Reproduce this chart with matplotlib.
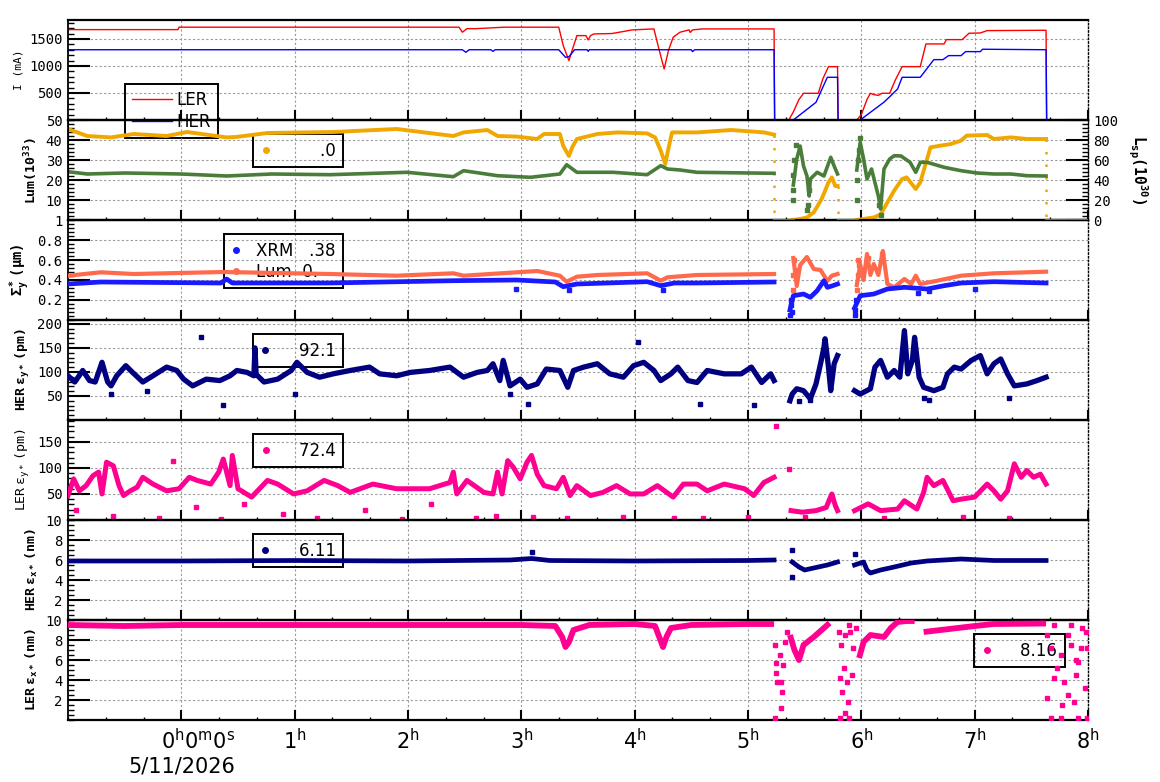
import matplotlib.pyplot as plt
import numpy as np
from matplotlib.ticker import MultipleLocator, FixedLocator, FixedFormatter
from matplotlib.lines import Line2D

plt.rcParams['font.family'] = 'DejaVu Sans Mono'
plt.rcParams['mathtext.fontset'] = 'custom'
plt.rcParams['mathtext.rm'] = 'DejaVu Sans Mono'
plt.rcParams['mathtext.bf'] = 'DejaVu Sans Mono:bold'
plt.rcParams['mathtext.it'] = 'DejaVu Sans Mono:italic'
plt.rcParams['mathtext.sf'] = 'DejaVu Sans'

# ---------------- data (time in hours from 0h, 5/11/2026) ----------------
# beam currents (mA)
ler_t = [-1.0, -0.03, -0.02, 2.45, 2.48, 2.52, 2.60, 2.85, 3.33, 3.37, 3.42, 3.45, 3.49, 3.57,
         3.59, 3.61, 3.64, 3.80, 3.98, 4.17, 4.21, 4.26, 4.30, 4.34, 4.40, 4.48, 4.49, 4.51, 4.60,
         5.23, 5.235, 5.36, 5.40, 5.45, 5.49, 5.62, 5.66, 5.71, 5.79, 5.795, 5.96, 6.00, 6.05,
         6.08, 6.11, 6.15, 6.18, 6.25, 6.30, 6.36, 6.52, 6.57, 6.73, 6.75, 6.89, 6.95, 7.05, 7.11,
         7.63, 7.635, 7.80]
ler_i = [1672, 1672, 1717, 1717, 1624, 1690, 1690, 1717, 1717, 1376, 1098, 1300, 1561, 1561,
         1481, 1561, 1592, 1600, 1667, 1685, 1346, 944, 1300, 1531, 1624, 1667, 1620, 1667, 1685,
         1685, 0, 0, 150, 380, 494, 494, 760, 987, 987, 0, 0, 100, 380,
         494, 470, 455, 494, 494, 740, 987, 987, 1407, 1407, 1487, 1487, 1605, 1610, 1654,
         1660, 0, 0]
her_t = [-1.0, 2.48, 2.51, 2.54, 2.73, 2.75, 2.77, 3.33, 3.39, 3.42, 3.47, 3.58, 3.59, 3.60,
         4.50, 4.51, 4.53, 5.23, 5.235, 5.40, 5.60, 5.70, 5.79, 5.795, 5.99, 6.08, 6.20, 6.26,
         6.32, 6.36, 6.52, 6.64, 6.72, 6.77, 6.88, 6.92, 7.05, 7.07, 7.63, 7.635, 7.80]
her_i = [1300, 1300, 1253, 1300, 1300, 1270, 1300, 1300, 1160, 1170, 1300, 1300, 1270, 1300,
         1300, 1265, 1300, 1300, 0, 0, 327, 790, 790, 0, 0, 142, 330, 450,
         574, 790, 790, 1117, 1117, 1191, 1191, 1265, 1265, 1309, 1300, 0, 0]

# luminosity (1e33) and specific luminosity (1e30)
lum_t1 = [-1.0, -0.83, -0.62, -0.42, -0.13, 0.05, 0.40, 0.48, 0.76, 1.34, 1.90, 2.40, 2.49, 2.70,
          2.79, 2.96, 3.14, 3.20, 3.34, 3.37, 3.42, 3.45, 3.49, 3.67, 3.85, 4.11, 4.18, 4.23, 4.27,
          4.30, 4.33, 4.55, 4.85, 5.14, 5.23]
lum_v1 = [45.5, 42, 41.3, 43, 42, 44, 41.3, 41.5, 43.5, 44, 45.5, 42, 43.8, 45,
          42, 41.7, 40.5, 43, 43, 37, 32, 36.5, 40.5, 43, 43.8, 43.3, 41.3, 34.7, 28,
          36.3, 43.8, 43.8, 45, 43.8, 42.7]
lum_t2 = [5.39, 5.46, 5.52, 5.58, 5.65, 5.71, 5.74, 5.77, 5.79]
lum_v2 = [0, 0.5, 1.3, 3.8, 10.5, 18.8, 21.3, 17, 17]
lum_t3 = [5.96, 6.11, 6.17, 6.23, 6.29, 6.36, 6.40, 6.48, 6.52, 6.58, 6.61, 6.70, 6.79, 6.88,
          6.93, 7.11, 7.17, 7.32, 7.46, 7.63]
lum_v3 = [0, 1.3, 2.8, 8.8, 14.7, 20.5, 21.3, 15.5, 18.8, 30.5, 36.3, 37.2, 38, 39.7,
          42.2, 42.5, 40.5, 41.3, 40.5, 40.5]

lsp_t1 = [-1.0, -0.83, -0.5, 0.0, 0.4, 0.8, 1.31, 1.99, 2.40, 2.49, 2.79, 3.08, 3.34, 3.40, 3.49,
          3.81, 4.11, 4.23, 4.29, 4.40, 4.55, 5.23]
lsp_v1 = [48.3, 46, 47, 46, 44, 46, 45.3, 47.7, 43.3, 49.3, 44.3, 42.7, 46, 55.3, 47.7,
          47.7, 45.3, 54.3, 51, 50, 47.7, 46.7]
lsp_t2 = [5.40, 5.43, 5.46, 5.49, 5.52, 5.54, 5.55, 5.61, 5.67, 5.73, 5.76, 5.79]
lsp_v2 = [35, 61, 74, 54, 44, 24, 41, 47.7, 44, 62.7, 54, 46]
lsp_t3 = [5.96, 5.99, 6.02, 6.05, 6.09, 6.15, 6.17, 6.20, 6.25, 6.29, 6.35, 6.43, 6.48, 6.52,
          6.58, 6.73, 6.88, 7.02, 7.17, 7.32, 7.46, 7.63]
lsp_v3 = [50, 77.7, 61, 41, 51, 24, 11, 51, 61, 64.3, 64, 57.7, 47.7, 57.7,
          57.7, 52.7, 49.3, 47, 46, 46, 44.3, 44]
lsp_zero_t = [[5.23, 5.40], [5.79, 5.96], [7.63, 8.0]]
lsp_out_t = [5.40, 5.40, 5.40, 5.41, 5.42, 5.52, 5.53, 5.54, 5.96, 5.96, 5.97, 5.98, 5.99, 6.16, 6.17]
lsp_out_v = [20, 30, 45, 60, 75, 10, 15, 30, 20, 40, 60, 70, 82, 15, 5]

# vertical beam size (um)
sl_t1 = [-1.0, -0.71, -0.42, 0.37, 1.31, 1.90, 2.40, 2.49, 2.96, 3.14, 3.34, 3.40, 3.49, 3.67,
         4.11, 4.23, 4.29, 4.55, 5.23]
sl_v1 = [0.443, 0.477, 0.46, 0.48, 0.46, 0.443, 0.467, 0.443, 0.477, 0.49, 0.443, 0.383, 0.433,
         0.45, 0.467, 0.393, 0.427, 0.45, 0.46]
sl_t2 = [5.40, 5.43, 5.46, 5.52, 5.58, 5.64, 5.70, 5.74, 5.79]
sl_v2 = [0.62, 0.34, 0.55, 0.63, 0.51, 0.50, 0.39, 0.443, 0.46]
sl_t3 = [5.96, 5.99, 6.02, 6.05, 6.08, 6.11, 6.15, 6.19, 6.23, 6.29, 6.38, 6.44, 6.48, 6.52,
         6.67, 6.88, 7.17, 7.63]
sl_v3 = [0.35, 0.55, 0.40, 0.66, 0.45, 0.56, 0.45, 0.69, 0.36, 0.327, 0.41, 0.36, 0.443, 0.36,
         0.393, 0.443, 0.467, 0.483]
sx_t1 = [-1.0, -0.71, 0.35, 0.40, 0.45, 1.31, 2.40, 2.96, 3.30, 3.37, 3.49, 4.11, 4.23, 4.35,
         4.55, 5.23]
sx_v1 = [0.36, 0.38, 0.37, 0.41, 0.37, 0.37, 0.393, 0.40, 0.38, 0.333, 0.36, 0.383, 0.343, 0.37,
         0.37, 0.38]
sx_t2 = [5.37, 5.40, 5.49, 5.55, 5.61, 5.67, 5.70, 5.74, 5.79]
sx_v2 = [0.10, 0.243, 0.26, 0.227, 0.293, 0.393, 0.327, 0.34, 0.36]
sx_t3 = [5.94, 5.99, 6.11, 6.23, 6.38, 6.58, 6.73, 6.88, 7.17, 7.63]
sx_v3 = [0.12, 0.243, 0.26, 0.31, 0.327, 0.31, 0.343, 0.37, 0.383, 0.37]
sx_out_t = [5.37, 5.38, 5.38, 5.39, 5.94, 5.94, 5.95, 2.95, 3.42, 4.25, 6.5, 6.6, 7.0]
sx_out_v = [0.05, 0.15, 0.2, 0.08, 0.05, 0.1, 0.2, 0.31, 0.30, 0.30, 0.27, 0.29, 0.31]
sl_out_t = [5.40, 5.40, 5.41, 5.42, 5.96, 5.97, 5.97, 5.98, 6.06, 6.18]
sl_out_v = [0.30, 0.45, 0.60, 0.50, 0.30, 0.45, 0.60, 0.55, 0.62, 0.66]

# HER vertical emittance (pm)
hey_t1 = [-1.0, -0.94, -0.87, -0.81, -0.76, -0.70, -0.65, -0.62, -0.57, -0.49, -0.43, -0.34,
          -0.25, -0.13, -0.04, 0.02, 0.10, 0.22, 0.34, 0.43, 0.49, 0.58, 0.64, 0.65, 0.66, 0.73,
          0.85, 0.97, 1.02, 1.11, 1.22, 1.34, 1.49, 1.66, 1.75, 1.90, 2.02, 2.19, 2.37, 2.49,
          2.61, 2.70, 2.75, 2.81, 2.84, 2.90, 2.99, 3.05, 3.14, 3.22, 3.34, 3.41, 3.46, 3.55,
          3.67, 3.78, 3.90, 3.99, 4.08, 4.17, 4.23, 4.32, 4.38, 4.47, 4.55, 4.64, 4.79, 4.94,
          5.03, 5.12, 5.20, 5.23]
hey_v1 = [92, 79, 103, 82, 79, 120, 79, 71, 92, 113, 99, 79,
          92, 110, 103, 85, 71, 85, 82, 92, 103, 99, 92, 150, 95, 79,
          85, 103, 120, 99, 89, 96, 103, 110, 96, 92, 99, 103, 110, 89,
          99, 103, 117, 82, 124, 71, 85, 68, 75, 106, 103, 68, 103, 110,
          117, 96, 89, 113, 120, 103, 82, 96, 110, 82, 78, 103, 96, 96,
          110, 78, 96, 82]
hey_t2 = [5.37, 5.39, 5.43, 5.49, 5.55, 5.60, 5.64, 5.67, 5.68, 5.71, 5.73, 5.76, 5.79]
hey_v2 = [40, 54, 65, 61, 44, 75, 117, 151, 169, 110, 61, 117, 134]
hey_t3 = [5.94, 5.99, 6.08, 6.12, 6.17, 6.23, 6.29, 6.34, 6.38, 6.41, 6.45, 6.47, 6.51, 6.55,
          6.64, 6.72, 6.76, 6.82, 6.88, 6.97, 7.05, 7.11, 7.17, 7.23, 7.29, 7.35, 7.46, 7.55, 7.63]
hey_v3 = [61, 54, 65, 110, 124, 89, 103, 89, 186, 96, 124, 172, 89, 68,
          61, 68, 96, 110, 106, 124, 134, 96, 117, 127, 96, 71, 75, 82, 89]
hey_out_t = [0.17, 0.37, -0.62, -0.3, 1.0, 2.9, 3.06, 4.03, 4.58, 5.05, 5.45, 5.55, 6.55, 6.6, 7.3]
hey_out_v = [172, 32, 55, 60, 55, 55, 33, 163, 33, 32, 40, 42, 45, 42, 45]

# LER vertical emittance (pm)
ley_t1 = [-1.0, -0.95, -0.90, -0.84, -0.78, -0.73, -0.70, -0.66, -0.60, -0.55, -0.51, -0.45,
          -0.39, -0.34, -0.25, -0.13, -0.02, 0.07, 0.14, 0.26, 0.33, 0.37, 0.43, 0.45, 0.50,
          0.62, 0.76, 0.85, 0.99, 1.11, 1.26, 1.38, 1.49, 1.69, 1.90, 2.19, 2.37, 2.40, 2.43,
          2.52, 2.67, 2.75, 2.79, 2.83, 2.88, 2.93, 2.99, 3.05, 3.09, 3.14, 3.20, 3.31, 3.37,
          3.43, 3.49, 3.61, 3.72, 3.84, 3.96, 4.08, 4.20, 4.34, 4.43, 4.55, 4.64, 4.79, 4.97,
          5.05, 5.14, 5.23]
ley_v1 = [47, 79, 56, 66, 85, 92, 50, 111, 104, 66, 47, 56,
          63, 82, 69, 56, 60, 82, 76, 69, 92, 117, 66, 124, 60,
          44, 76, 69, 50, 56, 76, 66, 53, 69, 60, 60, 72, 92, 50,
          76, 53, 50, 92, 50, 114, 101, 79, 111, 124, 88, 66, 60, 82,
          47, 66, 47, 53, 66, 50, 50, 66, 44, 69, 69, 56, 69, 60,
          47, 72, 82]
ley_t2 = [5.38, 5.48, 5.60, 5.69, 5.72, 5.74, 5.77, 5.79]
ley_v2 = [18, 15, 18, 24, 40, 50, 28, 18]
ley_t3 = [5.94, 6.06, 6.17, 6.32, 6.38, 6.49, 6.55, 6.58, 6.64, 6.72, 6.81, 6.88, 7.00, 7.11,
          7.17, 7.23, 7.29, 7.35, 7.41, 7.46, 7.52, 7.58, 7.63]
ley_v3 = [18, 31, 18, 21, 37, 21, 53, 82, 66, 76, 37, 40, 44, 69,
          56, 40, 56, 108, 82, 95, 82, 88, 69]
ley_out_t = [-0.93, -0.6, -0.07, -0.2, 0.13, 0.35, 0.55, 0.9, 1.2, 1.62, 1.95, 2.2, 2.6, 2.78,
             3.1, 3.4, 3.9, 4.35, 4.6, 5.0, 5.25, 5.36, 5.5, 6.2, 6.9, 7.3]
ley_out_v = [20, 8, 114, 3, 25, 2, 30, 12, 4, 20, 2, 30, 3, 8,
             5, 3, 6, 3, 4, 5, 180, 98, 5, 4, 5, 4]

# HER horizontal emittance (nm)
hex_t1 = [-1.0, 0.0, 1.0, 2.0, 2.9, 3.09, 3.25, 4.0, 5.0, 5.23]
hex_v1 = [5.9, 5.9, 5.95, 5.9, 6.0, 6.15, 5.95, 5.9, 5.95, 6.0]
hex_t2 = [5.39, 5.45, 5.50, 5.58, 5.70, 5.79]
hex_v2 = [5.8, 5.3, 5.0, 5.2, 5.5, 5.8]
hex_t3 = [5.94, 6.02, 6.05, 6.08, 6.17, 6.29, 6.44, 6.58, 6.88, 7.17, 7.63]
hex_v3 = [5.5, 5.8, 5.0, 4.7, 5.0, 5.3, 5.7, 5.9, 6.1, 5.95, 5.95]
hex_out_t = [5.39, 5.39, 5.94, 3.09]
hex_out_v = [7.0, 4.3, 6.6, 6.8]

# LER horizontal emittance (nm)
lex_t1 = [-1.0, -0.5, 0.0, 1.0, 2.0, 3.0, 3.30, 3.36, 3.39, 3.42, 3.46, 3.6, 4.0, 4.18, 4.22,
          4.25, 4.28, 4.32, 4.5, 5.0, 5.23]
lex_v1 = [9.5, 9.4, 9.5, 9.5, 9.5, 9.5, 9.4, 8.3, 7.3, 7.8, 9.0, 9.5, 9.6, 9.4, 8.2,
          7.3, 8.3, 9.2, 9.5, 9.6, 9.6]
lex_t2 = [5.37, 5.41, 5.45, 5.49, 5.58, 5.67, 5.72]
lex_v2 = [8.5, 7.0, 6.0, 7.5, 8.3, 9.2, 9.7]
lex_t3 = [5.98, 6.02, 6.08, 6.20, 6.26, 6.32, 6.40, 6.47]
lex_v3 = [6.2, 7.8, 8.5, 8.3, 9.2, 9.8, 9.9, 9.9]
lex_t4 = [6.55, 6.70, 6.85, 7.0, 7.17, 7.63]
lex_v4 = [8.8, 9.0, 9.2, 9.4, 9.6, 9.65]
lex_out_t = [5.24, 5.25, 5.25, 5.26, 5.28, 5.29, 5.30, 5.31, 5.33, 5.34, 5.24, 5.29,
             5.80, 5.81, 5.82, 5.83, 5.85, 5.86, 5.86, 5.87, 5.88, 5.89, 5.90, 5.92, 5.93, 5.95,
             5.81, 5.89,
             7.64, 7.67, 7.70, 7.73, 7.76, 7.77, 7.79, 7.82, 7.85, 7.88, 7.89, 7.91, 7.94, 7.95,
             7.97, 7.98, 7.67, 7.76, 7.91, 7.99, 7.64, 7.70, 7.85, 7.82, 7.89, 7.99]
lex_out_v = [7.5, 5.7, 4.7, 3.8, 6.5, 3.8, 2.8, 5.5, 7.8, 8.8, 0.2, 1.2,
             8.8, 4.2, 7.5, 2.8, 5.2, 0.7, 8.5, 3.8, 1.8, 0.2, 8.8, 4.5, 7.2, 9.2,
             0.2, 9.5,
             8.5, 7.2, 4.2, 5.2, 6.5, 1.5, 3.8, 2.5, 7.5, 1.8, 4.5, 5.8, 7.2, 9.2,
             3.2, 8.8, 0.2, 0.2, 0.2, 0.2, 2.2, 9.5, 9.5, 8.5, 6.0, 7.2]

# legend readouts
leg_lum = '        .0'
leg_xrm = 'XRM   .38'
leg_lumsize = 'Lum  0.'
leg_hey = '    92.1'
leg_ley = '    72.4'
leg_hex = '    6.11'
leg_lex = '    8.16'

hour_ticks = [0, 1, 2, 3, 4, 5, 6, 7, 8]

C_LER = '#ff0000'
C_HER = '#0000ff'
C_YEL = '#f0a800'
C_GRN = '#4b7d3a'
C_SAL = '#ff6a4d'
C_XRM = '#1a1aff'
C_NAVY = '#000080'
C_PINK = '#ff0090'


def seg(*parts):
    ts, vs = [], []
    for t, v in parts:
        ts += list(t) + [np.nan]
        vs += list(v) + [np.nan]
    return np.array(ts), np.array(vs)


fig = plt.figure(figsize=(11.6, 7.82), dpi=100)
fig.patch.set_facecolor('white')

L, R = 68 / 1160, 1088 / 1160
axes = []
for i in range(7):
    top = 20 + i * 100
    ax = fig.add_axes([L, 1 - (top + 100) / 782, R - L, 100 / 782])
    ax.set_facecolor('none')
    ax.set_xlim(-1, 8)
    axes.append(ax)


def style(ax, ymax, majors, minor, labels=None):
    ax.set_ylim(0, ymax)
    ax.yaxis.set_major_locator(FixedLocator(majors))
    if labels is not None:
        ax.yaxis.set_major_formatter(FixedFormatter(labels))
    ax.yaxis.set_minor_locator(MultipleLocator(minor))
    ax.xaxis.set_major_locator(FixedLocator(hour_ticks))
    ax.xaxis.set_minor_locator(MultipleLocator(1 / 3))
    ax.tick_params(axis='y', which='major', direction='in', length=16, width=1.5,
                   labelsize=10, pad=4)
    ax.tick_params(axis='y', which='minor', direction='in', length=4.5, width=1)
    ax.tick_params(axis='x', which='major', direction='in', length=7, width=1.5, top=False)
    ax.tick_params(axis='x', which='minor', direction='in', length=2.5, width=1, top=False)
    ax.grid(True, which='major', color='#9a9a9a', linestyle=(0, (2, 2)), linewidth=0.8)
    for s in ['top', 'bottom']:
        ax.spines[s].set_linewidth(1.6)
    ax.spines['left'].set_linewidth(1.3)
    ax.spines['right'].set_linestyle(':')
    ax.spines['right'].set_linewidth(1.0)


def boxed_legend(ax, handles, labels, **kw):
    leg = ax.legend(handles, labels, borderaxespad=0, fancybox=False, framealpha=1,
                    facecolor='none', edgecolor='black',
                    prop={'family': 'DejaVu Sans', 'size': 12}, **kw)
    leg.get_frame().set_linewidth(1.4)
    leg.set_zorder(1.5)
    return leg


def small_legend(ax, color, label, x_right):
    h = [Line2D([], [], color=color, marker='o', linestyle='none', markersize=4)]
    return boxed_legend(ax, h, [label], loc='upper right', bbox_to_anchor=(x_right, 0.86),
                        handlelength=0.6, handletextpad=0.45, borderpad=0.45)


# panel 1: currents
ax = axes[0]
style(ax, 1850, [500, 1000, 1500], 100)
ax.plot(ler_t, ler_i, color=C_LER, lw=1.0)
ax.plot(her_t, her_i, color=C_HER, lw=1.0)
ax.set_ylabel('I (mA)', fontsize=8)
boxed_legend(ax, [Line2D([], [], color=C_LER, lw=1), Line2D([], [], color=C_HER, lw=1)],
             ['LER', 'HER'], loc='upper left', bbox_to_anchor=(0.056, 0.356),
             handlelength=2.4, handletextpad=0.3, labelspacing=0.25, borderpad=0.4)

# panel 2: luminosity
ax = axes[1]
style(ax, 50, [10, 20, 30, 40, 50], 2)
t, v = seg((lum_t1, lum_v1), (lum_t2, lum_v2), (lum_t3, lum_v3))
ax.plot(t, v, color=C_YEL, lw=2.8, zorder=3)
for tt, vv in [(lum_t1[-1], lum_v1[-1]), (lum_t2[-1], lum_v2[-1]), (lum_t3[-1], lum_v3[-1])]:
    ax.plot([tt, tt], [vv, 0], color=C_YEL, lw=1.8, linestyle=(0, (1, 4)), zorder=3)
ax.set_ylabel(r'$\mathbf{Lum(10^{33})}$', fontsize=9.5)
small_legend(ax, C_YEL, leg_lum, 0.27)
tw = ax.twinx()
tw.set_ylim(0, 100)
tw.yaxis.set_major_locator(MultipleLocator(20))
tw.yaxis.set_minor_locator(MultipleLocator(4))
tw.tick_params(axis='y', which='major', direction='in', length=16, width=1.5, labelsize=10, pad=4)
tw.tick_params(axis='y', which='minor', direction='in', length=4.5, width=1)
tw.spines['right'].set_linestyle(':')
for s in ['top', 'bottom']:
    tw.spines[s].set_visible(False)
t, v = seg((lsp_t1, lsp_v1), (lsp_t2, lsp_v2), (lsp_t3, lsp_v3))
tw.plot(t, v, color=C_GRN, lw=2.6, zorder=2)
for z in lsp_zero_t:
    tw.plot(z, [0, 0], color=C_GRN, lw=2.4)
tw.plot(lsp_out_t, lsp_out_v, 's', color=C_GRN, markersize=2.2, linestyle='none')
tw.set_ylabel(r'$\mathbf{L_{sp}(10^{30})}$', fontsize=10.5, rotation=270, labelpad=22)

# panel 3: vertical beam size
ax = axes[2]
style(ax, 1.0, [0.2, 0.4, 0.6, 0.8, 1.0], 0.04, ['0.2', '0.4', '0.6', '0.8', '1'])
t, v = seg((sl_t1, sl_v1), (sl_t2, sl_v2), (sl_t3, sl_v3))
ax.plot(t, v, color=C_SAL, lw=3.0, zorder=3)
ax.plot(sl_out_t, sl_out_v, 's', color=C_SAL, markersize=2.2, zorder=3)
t, v = seg((sx_t1, sx_v1), (sx_t2, sx_v2), (sx_t3, sx_v3))
ax.plot(t, v, color=C_XRM, lw=3.4, zorder=3)
ax.plot(sx_out_t, sx_out_v, 's', color=C_XRM, markersize=2.2, zorder=3)
ax.set_ylabel(r'$\mathbf{\Sigma_y^*\ (\mu m)}$', fontsize=10)
h = [Line2D([], [], color=C_XRM, marker='o', linestyle='none', markersize=4),
     Line2D([], [], color=C_SAL, marker='o', linestyle='none', markersize=4)]
boxed_legend(ax, h, [leg_xrm, leg_lumsize], loc='upper right', bbox_to_anchor=(0.27, 0.86),
             handlelength=0.6, handletextpad=0.9, borderpad=0.45, labelspacing=0.2)

# panel 4: HER vertical emittance
ax = axes[3]
style(ax, 208, [50, 100, 150, 200], 10)
t, v = seg((hey_t1, hey_v1), (hey_t2, hey_v2), (hey_t3, hey_v3))
ax.plot(t, v, color=C_NAVY, lw=3.8, zorder=3)
ax.plot(hey_out_t, hey_out_v, 's', color=C_NAVY, markersize=2.2, zorder=3)
ax.set_ylabel(r'$\mathbf{HER\ \varepsilon_{y*}\ (pm)}$', fontsize=9.5)
small_legend(ax, C_NAVY, leg_hey, 0.27)

# panel 5: LER vertical emittance
ax = axes[4]
style(ax, 192, [50, 100, 150], 10)
t, v = seg((ley_t1, ley_v1), (ley_t2, ley_v2), (ley_t3, ley_v3))
ax.plot(t, v, color=C_PINK, lw=3.6, zorder=3)
ax.plot(ley_out_t, ley_out_v, 's', color=C_PINK, markersize=2.2, zorder=3)
ax.set_ylabel(r'$\mathrm{LER\ \varepsilon_{y*}\ (pm)}$', fontsize=9.5)
small_legend(ax, C_PINK, leg_ley, 0.27)

# panel 6: HER horizontal emittance
ax = axes[5]
style(ax, 10, [2, 4, 6, 8, 10], 0.5)
t, v = seg((hex_t1, hex_v1), (hex_t2, hex_v2), (hex_t3, hex_v3))
ax.plot(t, v, color=C_NAVY, lw=3.4, zorder=3)
ax.plot(hex_out_t, hex_out_v, 's', color=C_NAVY, markersize=2.2, zorder=3)
ax.set_ylabel(r'$\mathbf{HER\ \varepsilon_{x*}\ (nm)}$', fontsize=9.5)
small_legend(ax, C_NAVY, leg_hex, 0.27)

# panel 7: LER horizontal emittance
ax = axes[6]
style(ax, 10, [2, 4, 6, 8, 10], 0.5)
t, v = seg((lex_t1, lex_v1), (lex_t2, lex_v2), (lex_t3, lex_v3), (lex_t4, lex_v4))
ax.plot(t, v, color=C_PINK, lw=4.2, zorder=3, solid_capstyle='butt')
ax.plot(lex_out_t, lex_out_v, 's', color=C_PINK, markersize=2.6, zorder=3)
ax.set_ylabel(r'$\mathbf{LER\ \varepsilon_{x*}\ (nm)}$', fontsize=9.5)
small_legend(ax, C_PINK, leg_lex, 0.977)

for a in axes[:-1]:
    a.tick_params(axis='x', labelbottom=False)

xlabels = [r'$\mathsf{0^{h}0^{m}0^{s}}$' + '\n5/11/2026'] + \
          [r'$\mathsf{%d^{h}}$' % h for h in hour_ticks[1:]]
axes[-1].set_xticks(hour_ticks)
axes[-1].set_xticklabels(xlabels, fontfamily='DejaVu Sans', fontsize=15,
                         multialignment='right')
axes[-1].tick_params(axis='x', which='major', pad=6)

plt.savefig('out.png', dpi=100)
plt.close()
